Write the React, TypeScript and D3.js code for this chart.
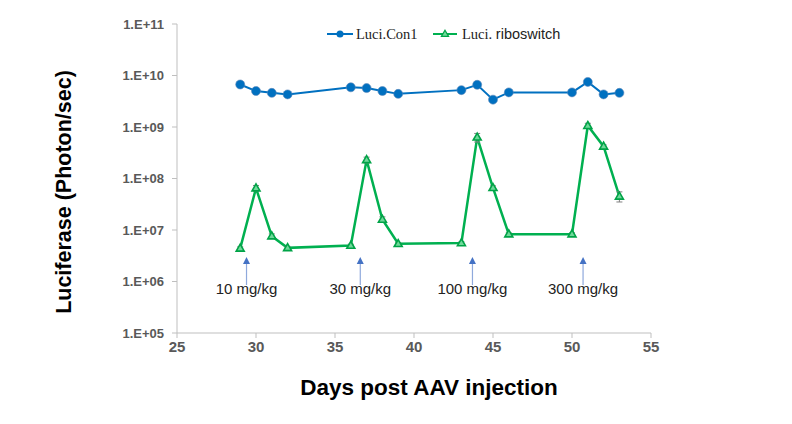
import React from 'react';
import { scaleLinear, scaleLog, line } from 'd3';

// days post AAV injection (both series share them)
const days = [29, 30, 31, 32, 36, 37, 38, 39, 43, 44, 45, 46, 50, 51, 52, 53];
const con1Values = [6.7e9, 5.0e9, 4.6e9, 4.3e9, 5.9e9, 5.7e9, 5.0e9, 4.4e9, 5.2e9, 6.6e9, 3.4e9, 4.7e9, 4.7e9, 7.5e9, 4.3e9, 4.6e9];
const con1Errors = [4e8, 3e8, 3e8, 2e8, 3e8, 3e8, 3e8, 2e8, 3e8, 4e8, 2e8, 3e8, 3e8, 5e8, 3e8, 3e8];
const riboValues = [4.4e6, 6.5e7, 7.6e6, 4.5e6, 5.0e6, 2.3e8, 1.6e7, 5.4e6, 5.6e6, 6.3e8, 6.6e7, 8.3e6, 8.3e6, 1.06e9, 4.2e8, 4.5e7];
const riboErrors = [3e5, 8e6, 8e5, 3e5, 3e5, 3e7, 2e6, 3e5, 3e5, 1.2e8, 6e6, 5e5, 5e5, 1.2e8, 3e7, 1e7];

const doseDays = [29.4, 36.6, 43.7, 50.7];
const doseLabels = ['10 mg/kg', '30 mg/kg', '100 mg/kg', '300 mg/kg'];

const yTicks = [1e5, 1e6, 1e7, 1e8, 1e9, 1e10, 1e11];
const yTickLabels = ['1.E+05', '1.E+06', '1.E+07', '1.E+08', '1.E+09', '1.E+10', '1.E+11'];
const xTicks = [25, 30, 35, 40, 45, 50, 55];

const BLUE = '#0070C0';
const GREEN = '#00B050';
const SANS = 'Arial, Liberation Sans, sans-serif';
const SERIF = 'Liberation Serif, Times New Roman, serif';

const x = scaleLinear().domain([25, 55]).range([177, 651]);
const y = scaleLog().domain([1e5, 1e11]).range([333, 24]);

const tri = (cx: number, cy: number, r: number) =>
  `M${cx},${cy - r}L${cx + r * 0.95},${cy + r * 0.65}L${cx - r * 0.95},${cy + r * 0.65}Z`;

export default function App() {
  const lineGen = line<number>()
    .x((_, i) => x(days[i]))
    .y((d) => y(d));

  return (
    <svg width={792} height={424} style={{ position: 'absolute', left: 0, top: 0, background: '#fff' }}>
      {/* axes */}
      <line x1={177} x2={177} y1={24} y2={333} stroke="#bfbfbf" />
      <line x1={177} x2={x(55)} y1={333} y2={333} stroke="#bfbfbf" />
      {yTicks.map((t, i) => (
        <g key={t}>
          <line x1={172} x2={177} y1={y(t)} y2={y(t)} stroke="#bfbfbf" />
          <text x={164} y={y(t)} dy="0.35em" textAnchor="end" fontFamily={SANS}
            fontWeight="bold" fontSize={13} fill="#595959">{yTickLabels[i]}</text>
        </g>
      ))}
      {xTicks.map((t) => (
        <g key={t}>
          <line x1={x(t)} x2={x(t)} y1={333} y2={338} stroke="#bfbfbf" />
          <text x={x(t)} y={352} textAnchor="middle" fontFamily={SANS}
            fontWeight="bold" fontSize={15} fill="#595959">{t}</text>
        </g>
      ))}

      {/* axis titles */}
      <text transform="translate(71,192) rotate(-90)" textAnchor="middle" fontFamily={SANS}
        fontWeight="bold" fontSize={21.5} fill="#000">Luciferase (Photon/sec)</text>
      <text x={429} y={395} textAnchor="middle" fontFamily={SANS}
        fontWeight="bold" fontSize={22.5} fill="#000">Days post AAV injection</text>

      {/* Con1 series */}
      <path d={lineGen(con1Values) || ''} fill="none" stroke={BLUE} strokeWidth={2} />
      {con1Values.map((v, i) => (
        <g key={'c' + i}>
          <line x1={x(days[i])} x2={x(days[i])} y1={y(v + con1Errors[i])} y2={y(v - con1Errors[i])} stroke="#808080" />
          <circle cx={x(days[i])} cy={y(v)} r={4.5} fill={BLUE} stroke="#5a87b8" strokeWidth={0.6} />
        </g>
      ))}

      {/* riboswitch series */}
      <path d={lineGen(riboValues) || ''} fill="none" stroke={GREEN} strokeWidth={2.5} />
      {riboValues.map((v, i) => {
        const cx = x(days[i]);
        const top = y(v + riboErrors[i]);
        const bot = y(v - riboErrors[i]);
        return (
          <g key={'r' + i}>
            <line x1={cx} x2={cx} y1={top} y2={bot} stroke="#808080" />
            <line x1={cx - 3} x2={cx + 3} y1={top} y2={top} stroke="#808080" />
            <line x1={cx - 3} x2={cx + 3} y1={bot} y2={bot} stroke="#808080" />
            <path d={tri(cx, y(v), 4.2)} fill="#6fd99a" stroke="#00a347" strokeWidth={1.6} />
          </g>
        );
      })}

      {/* dose arrows */}
      {doseDays.map((d, i) => (
        <g key={'a' + i}>
          <line x1={x(d)} x2={x(d)} y1={263} y2={285} stroke="#8fa9dc" strokeWidth={1.2} />
          <path d={`M${x(d)},${257}L${x(d) + 3.5},${264}L${x(d) - 3.5},${264}Z`} fill="#4472C4" />
          <text x={x(d)} y={294} textAnchor="middle" fontFamily={SANS}
            fontSize={15} fill="#222">{doseLabels[i]}</text>
        </g>
      ))}

      {/* legend */}
      <line x1={327} x2={353} y1={34} y2={34} stroke={BLUE} strokeWidth={2} />
      <circle cx={340} cy={34} r={3.5} fill={BLUE} />
      <text x={356} y={38.5} fontFamily={SERIF} fontSize={14.5} fill="#222">Luci.Con1</text>
      <line x1={433} x2={457} y1={34} y2={34} stroke={GREEN} strokeWidth={2} />
      <path d={tri(445, 34, 3.8)} fill="#6fd99a" stroke="#00a347" strokeWidth={1.2} />
      <text x={462} y={38.5} fontSize={14.5} fill="#222">
        <tspan fontFamily={SERIF}>Luci. </tspan>
        <tspan fontFamily={SANS}>riboswitch</tspan>
      </text>
    </svg>
  );
}
